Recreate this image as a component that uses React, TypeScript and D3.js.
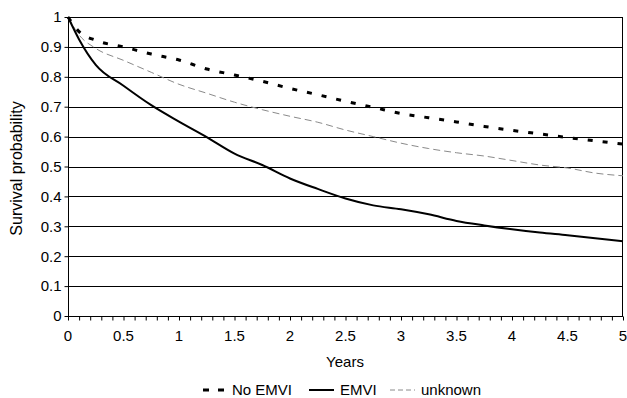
import { useEffect, useRef } from "react";
import * as d3 from "d3";

const years = [0, 0.1, 0.25, 0.5, 0.75, 1, 1.25, 1.5, 1.75, 2, 2.25, 2.5, 2.75, 3, 3.25, 3.5, 3.75, 4, 4.25, 4.5, 4.75, 5];
const noEmvi = [1.0, 0.951, 0.922, 0.9, 0.876, 0.856, 0.826, 0.806, 0.785, 0.761, 0.74, 0.718, 0.698, 0.677, 0.663, 0.649, 0.634, 0.621, 0.609, 0.597, 0.586, 0.575];
const emvi = [1.0, 0.925, 0.84, 0.77, 0.705, 0.65, 0.598, 0.543, 0.505, 0.46, 0.425, 0.393, 0.37, 0.357, 0.34, 0.318, 0.303, 0.29, 0.279, 0.27, 0.26, 0.25];
const unknown = [1.0, 0.94, 0.895, 0.855, 0.815, 0.775, 0.745, 0.715, 0.69, 0.668, 0.648, 0.622, 0.6, 0.578, 0.56, 0.546, 0.535, 0.52, 0.505, 0.495, 0.478, 0.469];

const xTickLabels = [0, 0.5, 1, 1.5, 2, 2.5, 3, 3.5, 4, 4.5, 5];
const yTickLabels = [0, 0.1, 0.2, 0.3, 0.4, 0.5, 0.6, 0.7, 0.8, 0.9, 1];

const seriesNames = ["No EMVI", "EMVI", "unknown"];

export default function App() {
  const svgRef = useRef<SVGSVGElement>(null);

  useEffect(() => {
    if (!svgRef.current) return;
    const width = 627;
    const height = 398;
    const margin = { top: 17, right: 4, bottom: 82, left: 68 };
    const innerWidth = width - margin.left - margin.right;
    const innerHeight = height - margin.top - margin.bottom;
    const font = "Liberation Sans, Arial, sans-serif";

    const svg = d3.select(svgRef.current);
    svg.selectAll("*").remove();
    const g = svg.append("g").attr("transform", `translate(${margin.left},${margin.top})`);

    const x = d3.scaleLinear().domain([0, 5]).range([0, innerWidth]);
    const y = d3.scaleLinear().domain([0, 1]).range([innerHeight, 0]);

    // grid lines
    g.append("g")
      .selectAll("line")
      .data(yTickLabels.filter((d) => d > 0))
      .enter()
      .append("line")
      .attr("x1", 0)
      .attr("x2", innerWidth)
      .attr("y1", (d) => Math.round(y(d)) + 0.5)
      .attr("y2", (d) => Math.round(y(d)) + 0.5)
      .attr("stroke", "#000")
      .attr("stroke-width", 1);

    // right border
    g.append("line")
      .attr("x1", innerWidth - 0.5)
      .attr("x2", innerWidth - 0.5)
      .attr("y1", 0)
      .attr("y2", innerHeight)
      .attr("stroke", "#000");

    // y axis
    const yAxis = g
      .append("g")
      .attr("transform", "translate(0.5,0)")
      .call(
        d3
          .axisLeft(y)
          .tickValues(yTickLabels)
          .tickSize(4)
          .tickPadding(3)
          .tickFormat((d) => String(d))
      );
    yAxis.select(".domain").attr("stroke", "#000").attr("d", `M0,0V${innerHeight}`);
    yAxis.selectAll(".tick line").attr("stroke", "#000");
    yAxis.selectAll("text").attr("font-family", font).attr("font-size", 15).attr("fill", "#000");

    // x axis minor ticks
    const xAxis = g
      .append("g")
      .attr("transform", `translate(0,${Math.round(innerHeight) + 0.5})`)
      .call(
        d3
          .axisBottom(x)
          .tickValues(d3.range(0, 51).map((i) => i / 10))
          .tickSize(4)
          .tickFormat(() => "")
      );
    xAxis.select(".domain").attr("stroke", "#000").attr("d", `M0,0H${innerWidth}`);
    xAxis.selectAll(".tick line").attr("stroke", "#000");

    // x tick labels
    g.append("g")
      .selectAll("text")
      .data(xTickLabels)
      .enter()
      .append("text")
      .attr("x", (d) => x(d))
      .attr("y", innerHeight + 25)
      .attr("text-anchor", "middle")
      .attr("font-family", font)
      .attr("font-size", 15)
      .text((d) => String(d));

    // axis titles
    svg.append("text")
      .attr("x", 345)
      .attr("y", 367)
      .attr("text-anchor", "middle")
      .attr("font-family", font)
      .attr("font-size", 15)
      .text("Years");

    svg.append("text")
      .attr("transform", `translate(22,${margin.top + innerHeight / 2 + 2}) rotate(-90)`)
      .attr("text-anchor", "middle")
      .attr("font-family", font)
      .attr("font-size", 16)
      .text("Survival probability");

    // lines
    const line = d3
      .line<number>()
      .x((_, i) => x(years[i]))
      .y((d) => y(d))
      .curve(d3.curveMonotoneX);

    g.append("path")
      .datum(unknown)
      .attr("fill", "none")
      .attr("stroke", "#8a8a8a")
      .attr("stroke-width", 1)
      .attr("stroke-dasharray", "7 4")
      .attr("d", line);

    g.append("path")
      .datum(emvi)
      .attr("fill", "none")
      .attr("stroke", "#000")
      .attr("stroke-width", 2)
      .attr("d", line);

    g.append("path")
      .datum(noEmvi)
      .attr("fill", "none")
      .attr("stroke", "#000")
      .attr("stroke-width", 3)
      .attr("stroke-dasharray", "5 10")
      .attr("d", line);

    // legend
    const legendY = 390;
    const legendItems = [
      { name: seriesNames[0], x0: 203, x1: 226, tx: 232, stroke: "#000", w: 3, dash: "6 9" },
      { name: seriesNames[1], x0: 309, x1: 334, tx: 340, stroke: "#000", w: 2, dash: null },
      { name: seriesNames[2], x0: 390, x1: 415, tx: 421, stroke: "#8a8a8a", w: 1, dash: "5 3" },
    ];
    const lg = svg.append("g");
    legendItems.forEach((it) => {
      const ln = lg
        .append("line")
        .attr("x1", it.x0)
        .attr("x2", it.x1)
        .attr("y1", legendY)
        .attr("y2", legendY)
        .attr("stroke", it.stroke)
        .attr("stroke-width", it.w);
      if (it.dash) ln.attr("stroke-dasharray", it.dash);
      lg.append("text")
        .attr("x", it.tx)
        .attr("y", legendY + 5)
        .attr("font-family", font)
        .attr("font-size", 15)
        .text(it.name);
    });
  }, []);

  return (
    <svg
      ref={svgRef}
      width={627}
      height={398}
      style={{ position: "absolute", left: 0, top: 0, background: "#fff" }}
    />
  );
}
